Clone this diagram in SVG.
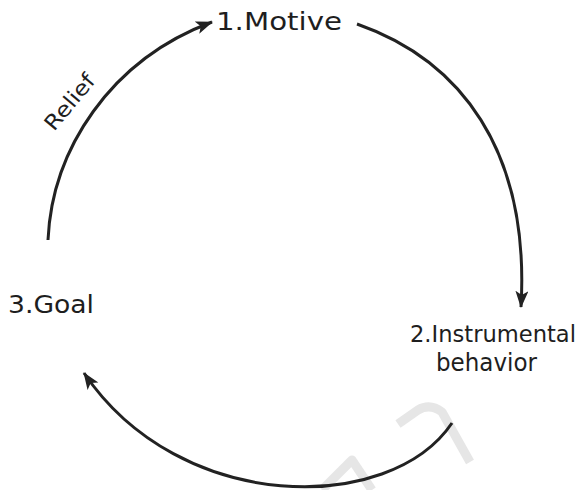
<svg xmlns="http://www.w3.org/2000/svg" width="583" height="490" viewBox="0 0 583 490">
<style>
.lbl{font-family:"DejaVu Sans","Liberation Sans",sans-serif;fill:#1e1e1e;}
.arc{fill:none;stroke:#222;stroke-width:3;stroke-linecap:butt;}
.wm{fill:none;stroke:#e6e6e6;stroke-width:9;stroke-linecap:butt;stroke-linejoin:round;}
</style>
<defs>
<marker id="ah" markerUnits="userSpaceOnUse" markerWidth="20" markerHeight="14" refX="16" refY="6.5" orient="auto">
<path d="M0,0 L17,6.5 L0,13 L4,6.5 Z" fill="#222"/>
</marker>
</defs>
<g id="watermark">
<path class="wm" d="M398,424 L418,410 Q430,403 442,412 L470,462"/>
<path class="wm" d="M322,490 L352,460 L372,490"/>
</g>
<g id="connectors">
<path class="arc" d="M48,240 C52,150 110,60 212,22" marker-end="url(#ah)"/>
<path class="arc" d="M357,24 C460,60 530,150 521,307" marker-end="url(#ah)"/>
<path class="arc" d="M452,423 C390,515 180,515 84,373" marker-end="url(#ah)"/>
</g>
<g id="node-motive">
<text class="lbl" x="216" y="30" font-size="24" textLength="126" lengthAdjust="spacingAndGlyphs">1.Motive</text>
</g>
<g id="node-instrumental">
<text class="lbl" x="410" y="342" font-size="23" textLength="166" lengthAdjust="spacingAndGlyphs">2.Instrumental</text>
<text class="lbl" x="436" y="371" font-size="24" textLength="101" lengthAdjust="spacingAndGlyphs">behavior</text>
</g>
<g id="node-goal">
<text class="lbl" x="8" y="313" font-size="24" textLength="86" lengthAdjust="spacingAndGlyphs">3.Goal</text>
</g>
<g id="label-relief">
<text class="lbl" x="0" y="0" font-size="21" textLength="66" lengthAdjust="spacingAndGlyphs" transform="translate(54,132) rotate(-50)">Relief</text>
</g>
</svg>
